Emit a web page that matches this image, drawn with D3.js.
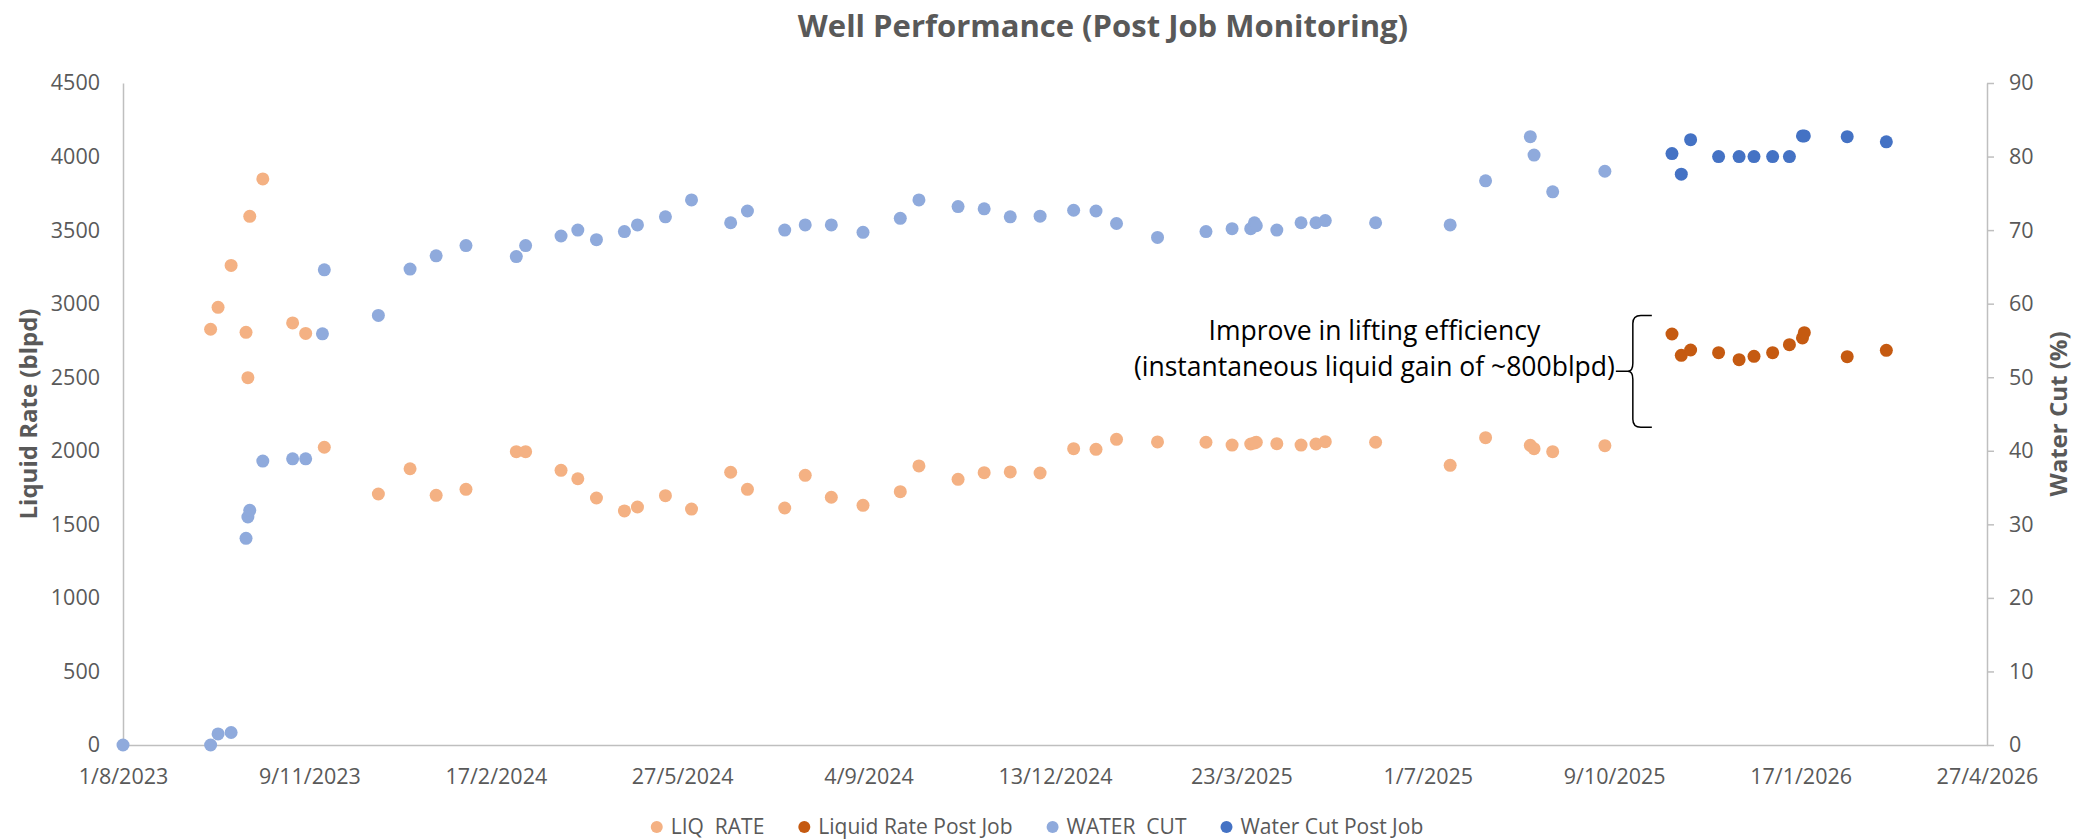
<!DOCTYPE html>
<html>
<head>
<meta charset="utf-8">
<script src="https://cdn.jsdelivr.net/npm/d3@7"></script>
<style>
  html, body { margin: 0; padding: 0; background: #fff; }
  svg { display: block; font-family: "Open Sans", "Noto Sans", sans-serif; }
</style>
</head>
<body>
<svg id="chart" width="2083" height="840"></svg>
<script>
// ---- data ----
const preDates = [
  "2023-08-01","2023-09-17","2023-09-21","2023-09-28","2023-10-06","2023-10-07","2023-10-08",
  "2023-10-15","2023-10-31","2023-11-07","2023-11-16","2023-11-17","2023-12-16","2024-01-02",
  "2024-01-16","2024-02-01","2024-02-28","2024-03-04","2024-03-23","2024-04-01","2024-04-11",
  "2024-04-26","2024-05-03","2024-05-18","2024-06-01","2024-06-22","2024-07-01","2024-07-21",
  "2024-08-01","2024-08-15","2024-09-01","2024-09-21","2024-10-01","2024-10-22","2024-11-05",
  "2024-11-19","2024-12-05","2024-12-23","2025-01-04","2025-01-15","2025-02-06","2025-03-04",
  "2025-03-18","2025-03-28","2025-03-30","2025-03-31","2025-04-11","2025-04-24","2025-05-02",
  "2025-05-07","2025-06-03","2025-07-13","2025-08-01","2025-08-25","2025-08-27","2025-09-06",
  "2025-10-04"
];
const liqRate = [
  null, 2826, 2975, 3260, 2805, 2497, 3594,
  3848, 2869, 2798, null, 2024, 1706, 1878,
  1697, 1738, 1994, 1994, 1867, 1810, 1679,
  1591, 1618, 1695, 1604, 1854, 1738, 1611,
  1833, 1684, 1629, 1722, 1897, 1806, 1851,
  1856, 1849, 2014, 2010, 2078, 2060, 2058,
  2039, 2046, 2053, 2058, 2048, 2039, 2046,
  2062, 2058, 1901, 2089, 2037, 2014, 1994,
  2035
];
const waterCut = [
  0, 0, 1.5, 1.7, 28.1, 31.0, 31.9,
  38.6, 38.9, 38.9, 55.9, 64.6, 58.4, 64.7,
  66.5, 67.9, 66.4, 67.9, 69.2, 70.0, 68.7,
  69.8, 70.7, 71.8, 74.1, 71.0, 72.6, 70.0,
  70.7, 70.7, 69.7, 71.6, 74.1, 73.2, 72.9,
  71.8, 71.9, 72.7, 72.6, 70.9, 69.0, 69.8,
  70.2, 70.2, 71.0, 70.6, 70.0, 71.0, 71.0,
  71.3, 71.0, 70.7, 76.7, 82.7, 80.2, 75.2,
  78.0
];

const postDates = [
  "2025-11-09","2025-11-14","2025-11-19","2025-12-04","2025-12-15","2025-12-23",
  "2026-01-02","2026-01-11","2026-01-18","2026-01-19","2026-02-11","2026-03-04"
];
const liqRatePost = [2794, 2649, 2685, 2667, 2619, 2642, 2667, 2721, 2767, 2803, 2640, 2683];
const waterCutPost = [80.4, 77.6, 82.3, 80.0, 80.0, 80.0, 80.0, 80.0, 82.8, 82.8, 82.7, 82.0];

const xTickDates = [
  "2023-08-01","2023-11-09","2024-02-17","2024-05-27","2024-09-04","2024-12-13",
  "2025-03-23","2025-07-01","2025-10-09","2026-01-17","2026-04-27"
];
const liqTicks = [0, 500, 1000, 1500, 2000, 2500, 3000, 3500, 4000, 4500];
const wcTicks = [0, 10, 20, 30, 40, 50, 60, 70, 80, 90];

const seriesNames = ["LIQ  RATE", "Liquid Rate Post Job", "WATER  CUT", "Water Cut Post Job"];
const seriesColors = ["#F4B183", "#C55A11", "#8FAADC", "#4472C4"];

// annotation
const noteLines = ["Improve in lifting efficiency", "(instantaneous liquid gain of ~800blpd)"];
const braceDate = "2025-10-19";
const braceRange = [2920, 2160];

// ---- layout ----
const svg = d3.select('#chart');
const width = +svg.attr('width');
const height = +svg.attr('height');
const margin = { top: 83, right: 96, bottom: 95, left: 123 };
const grey = '#595959';
const axisGrey = '#BFBFBF';
const tickFont = 21.5;

const parse = d3.utcParse('%Y-%m-%d');
const fmt = d3.utcFormat('%-d/%-m/%Y');

const x = d3.scaleUtc()
  .domain([parse(xTickDates[0]), parse(xTickDates[xTickDates.length - 1])])
  .range([margin.left, width - margin.right]);
const yL = d3.scaleLinear().domain([0, 4500]).range([height - margin.bottom, margin.top]);
const yR = d3.scaleLinear().domain([0, 90]).range([height - margin.bottom, margin.top]);

// title
svg.append('text')
  .attr('x', 1103).attr('y', 37)
  .attr('text-anchor', 'middle')
  .attr('fill', grey)
  .attr('font-size', 31).attr('font-weight', 700)
  .text('Well Performance (Post Job Monitoring)');

// axes
const styleAxis = (g) => {
  g.select('.domain').attr('stroke', axisGrey).attr('stroke-width', 1.5);
  g.selectAll('.tick line').attr('stroke', axisGrey).attr('stroke-width', 1.5);
  g.selectAll('.tick text').attr('fill', grey).attr('font-size', tickFont)
    .attr('font-family', '"Open Sans", sans-serif');
};

svg.append('g')
  .attr('transform', `translate(0,${height - margin.bottom})`)
  .call(d3.axisBottom(x).tickValues(xTickDates.map(parse)).tickFormat(fmt)
    .tickSize(0).tickPadding(24).tickSizeOuter(0))
  .call(styleAxis);

svg.append('g')
  .attr('transform', `translate(${margin.left},0)`)
  .call(d3.axisLeft(yL).tickValues(liqTicks).tickFormat(d3.format('d'))
    .tickSize(0).tickPadding(23).tickSizeOuter(0))
  .call(styleAxis);

svg.append('g')
  .attr('transform', `translate(${width - margin.right},0)`)
  .call(d3.axisRight(yR).tickValues(wcTicks).tickFormat(d3.format('d'))
    .tickSize(7).tickPadding(15).tickSizeOuter(0))
  .call(styleAxis);

// axis titles
svg.append('text')
  .attr('transform', `translate(29,${(yL(0) + yL(4500)) / 2}) rotate(-90)`)
  .attr('text-anchor', 'middle').attr('dy', '0.35em')
  .attr('fill', grey).attr('font-size', 24).attr('font-weight', 700)
  .text('Liquid Rate (blpd)');

svg.append('text')
  .attr('transform', `translate(2059,${(yR(0) + yR(90)) / 2}) rotate(-90)`)
  .attr('text-anchor', 'middle').attr('dy', '0.35em')
  .attr('fill', grey).attr('font-size', 24).attr('font-weight', 700)
  .text('Water Cut (%)');

// points
const R = 6.5;
const series = [
  { dates: preDates, vals: liqRate, y: yL },
  { dates: postDates, vals: liqRatePost, y: yL },
  { dates: preDates, vals: waterCut, y: yR },
  { dates: postDates, vals: waterCutPost, y: yR }
];

series.forEach((s, i) => {
  const pts = s.dates.map((d, j) => ({ date: parse(d), v: s.vals[j] }))
    .filter(p => p.v != null);
  svg.append('g')
    .selectAll('circle')
    .data(pts)
    .enter().append('circle')
      .attr('cx', d => x(d.date))
      .attr('cy', d => s.y(d.v))
      .attr('r', R)
      .attr('fill', seriesColors[i]);
});

// brace annotation
const bx = x(parse(braceDate));
const bTop = yL(braceRange[0]);
const bBot = yL(braceRange[1]);
const bMid = (bTop + bBot) / 2;
const c = 8;
svg.append('path')
  .attr('d', `M${bx + 19},${bTop} L${bx + c},${bTop} Q${bx},${bTop} ${bx},${bTop + c}
    L${bx},${bMid - c} Q${bx},${bMid} ${bx - 5},${bMid} Q${bx},${bMid} ${bx},${bMid + c}
    L${bx},${bBot - c} Q${bx},${bBot} ${bx + c},${bBot} L${bx + 19},${bBot}
    M${bx - 5},${bMid} L${bx - 17},${bMid}`)
  .attr('fill', 'none').attr('stroke', '#000').attr('stroke-width', 1.5);

const note = svg.append('g');
const l2 = note.append('text')
  .attr('font-size', 26.5).attr('fill', '#000')
  .attr('text-anchor', 'end')
  .attr('x', bx - 18).attr('y', bMid + 5)
  .text(noteLines[1]);
const w2 = l2.node().getComputedTextLength();
note.append('text')
  .attr('font-size', 26.5).attr('fill', '#000')
  .attr('text-anchor', 'middle')
  .attr('x', bx - 18 - w2 / 2).attr('y', bMid - 31)
  .text(noteLines[0]);

// legend
const legend = svg.append('g').attr('transform', `translate(0,827)`);
const items = legend.selectAll('g')
  .data(seriesNames)
  .enter().append('g');
items.append('circle').attr('r', 6).attr('fill', (d, i) => seriesColors[i]);
items.append('text')
  .attr('x', 14).attr('dy', '0.35em')
  .attr('font-size', 21).attr('fill', grey)
  .style('white-space', 'pre')
  .text(d => d);
let cursor = 0;
const offsets = [];
items.each(function () {
  offsets.push(cursor);
  cursor += 14 + this.querySelector('text').getComputedTextLength() + 40;
});
const total = cursor - 40 + 6;
const startX = 1037 - total / 2 + 6;
items.attr('transform', (d, i) => `translate(${startX + offsets[i]},0)`);
</script>
</body>
</html>
